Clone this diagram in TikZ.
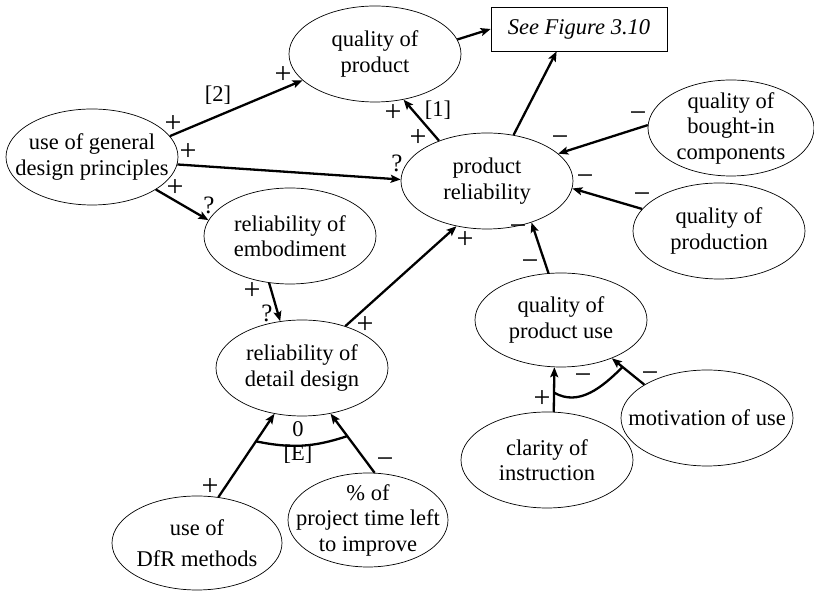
\documentclass[tikz,border=0pt]{standalone}
\usepackage{fontspec}
\setmainfont{Liberation Serif}
\usetikzlibrary{shapes.geometric,arrows.meta}
\tikzset{
  concept/.style={draw,ellipse,line width=0.7pt,minimum width=172pt,minimum height=96pt,inner sep=-40pt,align=center,font=\fontsize{22.5}{25.5}\selectfont},
  link/.style={-{Stealth[length=10pt,width=8pt,inset=2pt]},line width=2.3pt},
  sgn/.style={inner sep=0pt,font=\fontsize{30}{32}\selectfont},
  qm/.style={inner sep=0pt,font=\fontsize{25}{28}\selectfont},
  tag/.style={inner sep=0pt,font=\fontsize{22.5}{25.5}\selectfont}
}
\begin{document}
\begin{tikzpicture}[x=1pt,y=1pt]
\useasboundingbox (0,0) rectangle (814,591);
% concepts
\node[concept] (gen) at (92,434) {use of general\\design principles};
\node[concept] (qprod) at (375,537) {quality of\\product};
\node[draw,line width=0.7pt,minimum width=176pt,minimum height=44pt,font=\fontsize{22.5}{25.5}\selectfont\itshape] (fig) at (579,562) {See Figure 3.10};
\node[concept] (rel) at (487,410) {product\\reliability};
\node[concept,minimum width=166pt] (bought) at (731,463) {quality of\\bought-in\\components};
\node[concept] (prodn) at (719,360) {quality of\\production};
\node[concept] (emb) at (290,355) {reliability of\\embodiment};
\node[concept] (detail) at (302,223) {reliability of\\detail design};
\node[concept,minimum width=170pt,minimum height=94pt] (dfr) at (197,48) {use of\\[6pt]DfR methods};
\node[concept,minimum width=160pt,minimum height=94pt] (time) at (368,71) {\% of\\project time left\\to improve};
\node[concept,minimum height=94pt] (use) at (561,271) {quality of\\product use};
\node[concept] (clar) at (547,131) {clarity of\\instruction};
\node[concept] (motiv) at (707,173) {motivation of use};
% influences
\draw[link] (gen.15) -- (qprod.200);
\draw[link] (gen.-5) -- (rel.179);
\draw[link] (gen.-27) -- (emb.169);
\draw[link] (rel.140) -- (qprod.-58);
\draw[link] (rel.60) -- (fig.-135);
\draw[link] (qprod.10) -- (fig.west);
\draw[link] (bought.178) -- (rel.21);
\draw[link] (prodn.164) -- (rel.-5);
\draw[link] (use.105) -- (rel.-43);
\draw[link] (detail.44) -- (rel.-124);
\draw[link] (emb.-114) -- (detail.115);
\draw[link] (dfr.65) -- coordinate[pos=.67] (e1) (detail.-121);
\draw[link] (time.82) -- coordinate[pos=.62] (e2) (detail.-58);
\draw[link] (clar.82) -- coordinate[pos=.43] (c1) (use.-98);
\draw[link] (motiv.152) -- coordinate[pos=.67] (c2) (use.-37);
\draw[line width=2.3pt] (e1) to[bend right=15] (e2);
\draw[line width=2.3pt] (c1) to[out=-30,in=225] (c2);
% signs
\node[sgn] (s1) at (173,467) {+};
\node[tag] (s2) at (218,496) {[2]};
\node[sgn] (s3) at (283,516) {+};
\node[sgn] (s4) at (188,439) {+};
\node[qm] (s5) at (397,428) {?};
\node[sgn] (s6) at (175,403) {+};
\node[qm] (s7) at (209,386) {?};
\node[sgn] (s8) at (393,478) {+};
\node[tag] (s9) at (438,481) {[1]};
\node[sgn] (s10) at (418,453) {+};
\node[sgn] (s11) at (638,474) {−};
\node[sgn] (s12) at (560,450) {−};
\node[sgn] (s13) at (585,411) {−};
\node[sgn] (s14) at (642,393) {−};
\node[sgn] (s15) at (518,361) {−};
\node[sgn] (s16) at (530,326) {−};
\node[sgn] (s17) at (365,266) {+};
\node[sgn] (s18) at (465,351) {+};
\node[sgn] (s19) at (252,300) {+};
\node[qm] (s20) at (267,278) {?};
\node[sgn] (s21) at (210,104) {+};
\node[sgn] (s22) at (385,128) {−};
\node[tag] (s23) at (298,162) {0};
\node[tag] (s24) at (298,137) {[E]};
\node[sgn] (s25) at (542,192) {+};
\node[sgn] (s26) at (650,214) {−};
\node[sgn] (s27) at (583,212) {−};
\end{tikzpicture}
\end{document}
